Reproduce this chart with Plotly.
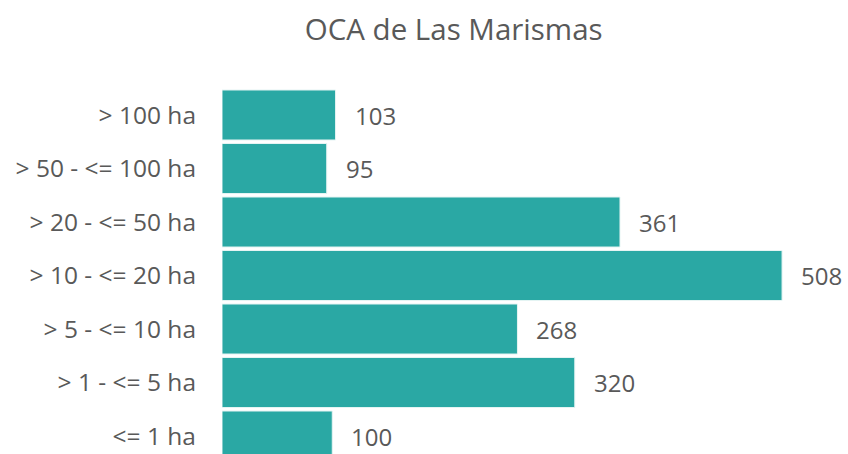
import plotly.graph_objects as go

categories = ["<= 1 ha", "> 1 - <= 5 ha", "> 5 - <= 10 ha", "> 10 - <= 20 ha",
              "> 20 - <= 50 ha", "> 50 - <= 100 ha", "> 100 ha"]
values = [100, 320, 268, 508, 361, 95, 103]
title = "OCA de Las Marismas"

bar_color = "#2AA8A4"
text_color = "#595959"
font_family = "Open Sans, Noto Sans, sans-serif"

fig = go.Figure(go.Bar(
    x=values, y=categories, orientation="h",
    marker=dict(color=bar_color, line=dict(color="#E6F4F3", width=1)),
    hoverinfo="skip",
))

for c, v in zip(categories, values):
    fig.add_annotation(x=v, y=c, text=str(v), showarrow=False,
                       xanchor="left", xshift=17,
                       font=dict(size=24, color=text_color, family=font_family))

fig.update_layout(
    width=848, height=454,
    margin=dict(l=222, r=30, t=60, b=0),
    paper_bgcolor="white", plot_bgcolor="white",
    bargap=0.065,
    showlegend=False,
    title=dict(text=title, x=0.535, xref="container", xanchor="center",
               y=0.934, yanchor="middle",
               font=dict(size=29.5, color=text_color, family=font_family)),
    xaxis=dict(range=[0, 540.6], visible=False, fixedrange=True),
    yaxis=dict(type="category", categoryorder="array", categoryarray=categories,
               range=[-0.336, 7.028], showgrid=False, zeroline=False,
               showline=False, ticks="", ticklabelstandoff=25,
               tickfont=dict(size=24.5, color=text_color, family=font_family)),
)

fig.write_html(
    "out.html",
    config={"displayModeBar": False},
    post_script="document.body.style.margin='0';document.body.style.overflow='hidden';",
)
